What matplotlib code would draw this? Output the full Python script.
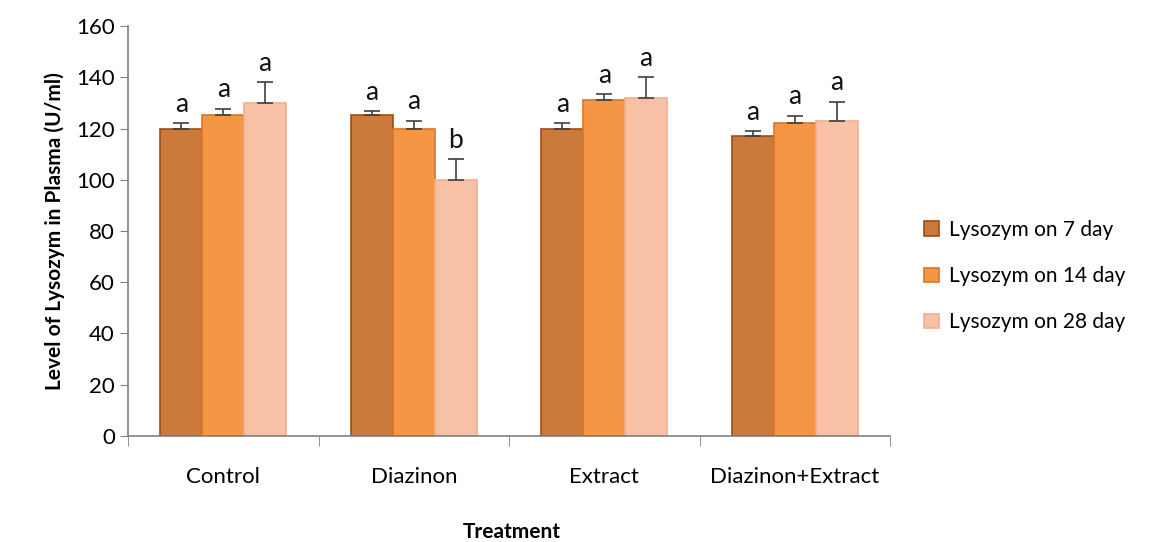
import numpy as np
import matplotlib
matplotlib.use('Agg')
import matplotlib.pyplot as plt

plt.rcParams['font.family'] = ['Lato', 'DejaVu Sans']

groups = ['Control', 'Diazinon', 'Extract', 'Diazinon+Extract']
series = ['Lysozym on 7 day', 'Lysozym on 14 day', 'Lysozym on 28 day']
day7 = [120, 125.3, 120, 117]
day14 = [125.3, 120, 131, 122]
day28 = [130, 100, 132, 123]
err7 = [2, 1.5, 2, 2]
err14 = [2.5, 3, 2.5, 3]
err28 = [8, 8, 8, 7.5]
lab7 = ['a', 'a', 'a', 'a']
lab14 = ['a', 'a', 'a', 'a']
lab28 = ['a', 'b', 'a', 'a']

colors = ['#CB7A3B', '#F59645', '#F8C1A6']
edges = ['#9E4E14', '#D9772A', '#EFB090']

fig = plt.figure(figsize=(11.49, 5.42), dpi=100)
ax = fig.add_axes([0.1114, 0.1956, 0.6632, 0.7564])

x = np.arange(len(groups))
w = 0.22
data = [(day7, err7, lab7), (day14, err14, lab14), (day28, err28, lab28)]
for i, (vals, errs, labs) in enumerate(data):
    pos = x + (i - 1) * w
    ax.bar(pos, vals, w, color=colors[i], edgecolor=edges[i], linewidth=1.2,
           label=series[i], zorder=2)
    ax.errorbar(pos, vals, yerr=[np.zeros(len(errs)), errs], fmt='none',
                ecolor='#404040', elinewidth=1.2, capsize=6, capthick=1.2, zorder=3)
    for p, v, e, t in zip(pos, vals, errs, labs):
        ax.text(p, v + e + 2.5, t, ha='center', va='bottom', fontsize=19, color='#111111')

ax.set_xlim(-0.5, 3.5)
ax.set_ylim(0, 160)
ax.set_yticks(range(0, 161, 20))
ax.set_xticks(x)
ax.set_xticklabels(groups, fontsize=16)
ax.set_xticks(np.arange(-0.5, 3.6, 1), minor=True)
ax.tick_params(axis='x', which='major', length=0, pad=22)
ax.tick_params(axis='x', which='minor', length=7, color='#808080')
ax.tick_params(axis='y', labelsize=16, length=6, color='#808080')
for s in ['top', 'right']:
    ax.spines[s].set_visible(False)
for s in ['left', 'bottom']:
    ax.spines[s].set_color('#808080')
    ax.spines[s].set_linewidth(1.2)

ax.set_ylabel('Level of Lysozym in Plasma (U/ml)', fontsize=15, fontweight='bold', labelpad=8)
fig.text(0.4457, 0.018, 'Treatment', ha='center', va='center', fontsize=15, fontweight='bold')

ax.legend(loc='center left', bbox_to_anchor=(1.02, 0.39), frameon=False,
          fontsize=15, handlelength=0.7, handleheight=0.7, labelspacing=1.25,
          handletextpad=0.5)

fig.savefig('out.png', dpi=100)
